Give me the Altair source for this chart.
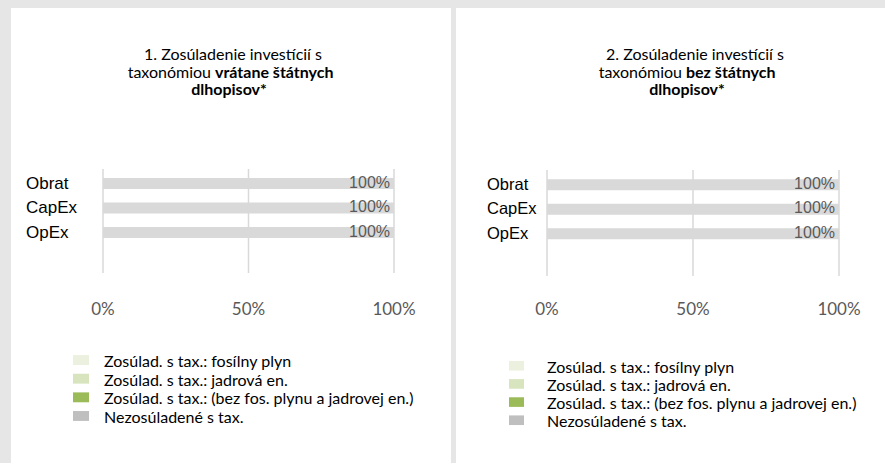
import altair as alt
import pandas as pd

# ---------------- data ----------------
categories = ["Obrat", "CapEx", "OpEx"]
series = [
    "Zosúlad. s tax.: fosílny plyn",
    "Zosúlad. s tax.: jadrová en.",
    "Zosúlad. s tax.: (bez fos. plynu a jadrovej en.)",
    "Nezosúladené s tax.",
]
# panel 1: including sovereign bonds (share of total)
p1_fossil = [0.0, 0.0, 0.0]
p1_nuclear = [0.0, 0.0, 0.0]
p1_aligned = [0.0, 0.0, 0.0]
p1_not_aligned = [1.0, 1.0, 1.0]
# panel 2: excluding sovereign bonds
p2_fossil = [0.0, 0.0, 0.0]
p2_nuclear = [0.0, 0.0, 0.0]
p2_aligned = [0.0, 0.0, 0.0]
p2_not_aligned = [1.0, 1.0, 1.0]

x_ticks = [0.0, 0.5, 1.0]
x_tick_labels = ["0%", "50%", "100%"]

p1_title = ["1. Zosúladenie investícií s", "taxonómiou", "vrátane štátnych", "dlhopisov*"]
p2_title = ["2. Zosúladenie investícií s", "taxonómiou", "bez štátnych", "dlhopisov*"]

# ---------------- styles ----------------
bar_colors = ["#ebf1de", "#d7e4bd", "#9bbb59", "#d9d9d9"]
legend_colors = ["#ebf1de", "#d7e4bd", "#9bbb59", "#bfbfbf"]
SANS = "Lato"
ARIAL = "Liberation Sans"
GREY_TXT = "#595959"


def panel(vals, title, cfg):
    rows = []
    for si, (s, arr) in enumerate(zip(series, vals)):
        for c, v in zip(categories, arr):
            rows.append({"cat": c, "series": s, "value": v, "order": si,
                         "col": bar_colors[si]})
    df = pd.DataFrame(rows)
    totals = df.groupby("cat", sort=False)["value"].sum().reset_index()
    ticks = pd.DataFrame({"tick": x_ticks, "lab": x_tick_labels})
    leg = pd.DataFrame({"label": series, "col": legend_colors})

    xs = alt.Scale(domain=[0, 1], range=cfg["xr"], nice=False, zero=False)
    ys = alt.Scale(domain=categories, range=cfg["yr"], paddingInner=0.55, paddingOuter=0.275)
    ls = alt.Scale(domain=series, range=cfg["lr"], paddingInner=0.47, paddingOuter=0.235)

    grid = alt.Chart(ticks).mark_rule(color="#d9d9d9", strokeWidth=1.5).encode(
        x=alt.X("tick:Q", scale=xs, axis=None),
        y=alt.value(cfg["gy"][0]), y2=alt.value(cfg["gy"][1]))

    bars = alt.Chart(df).mark_bar().encode(
        x=alt.X("value:Q", stack="zero", scale=xs, axis=None),
        y=alt.Y("cat:N", scale=ys, axis=None, sort=categories),
        color=alt.Color("col:N", scale=None, legend=None),
        order=alt.Order("order:Q"))

    vlab = alt.Chart(totals).mark_text(align="right", baseline="middle", dx=-4, dy=-1,
                                       font=ARIAL, fontSize=16, color=GREY_TXT).encode(
        x=alt.X("value:Q", scale=xs, axis=None),
        y=alt.Y("cat:N", scale=ys, axis=None, sort=categories),
        text=alt.Text("value:Q", format=".0%"))

    clab = alt.Chart(pd.DataFrame({"cat": categories})).mark_text(
        align="left", baseline="middle", font=ARIAL, fontSize=cfg["cfs"], color="#000000").encode(
        x=alt.value(cfg["cx"]),
        y=alt.Y("cat:N", scale=ys, axis=None, sort=categories),
        text="cat:N")

    tlab = alt.Chart(ticks).mark_text(baseline="middle", font=SANS, fontSize=17,
                                       color=GREY_TXT).encode(
        x=alt.X("tick:Q", scale=xs, axis=None),
        y=alt.value(cfg["ty"]),
        text="lab:N")

    lrect = alt.Chart(leg).mark_rect().encode(
        x=alt.value(cfg["lx"][0]), x2=alt.value(cfg["lx"][1]),
        y=alt.Y("label:N", scale=ls, axis=None, sort=series),
        color=alt.Color("col:N", scale=None, legend=None))

    ltext = alt.Chart(leg).mark_text(align="left", baseline="middle", dy=2, font=SANS,
                                     fontSize=cfg["lfs"], color="#000000").encode(
        x=alt.value(cfg["ltx"]),
        y=alt.Y("label:N", scale=ls, axis=None, sort=series),
        text="label:N")

    def tx(text, x, y, align, weight):
        return alt.Chart(pd.DataFrame({"t": [text]})).mark_text(
            align=align, baseline="middle", font=SANS, fontSize=16,
            fontWeight=weight, color="#000000").encode(
            x=alt.value(x), y=alt.value(y), text="t:N")

    t1 = tx(title[0], cfg["t1x"], cfg["ty0"], "center", "normal")
    t2a = tx(title[1], cfg["split"] - 4, cfg["ty0"] + 17.5, "right", "normal")
    t2b = tx(title[2], cfg["split"], cfg["ty0"] + 17.5, "left", "bold")
    t3 = tx(title[3], cfg["t3x"], cfg["ty0"] + 35, "center", "bold")

    return alt.layer(grid, bars, vlab, clab, tlab, lrect, ltext, t1, t2a, t2b, t3).resolve_scale(
        y="independent").properties(width=cfg["w"], height=455)


cfg1 = dict(w=440, xr=[92, 383], yr=[163.25, 236.75], gy=[161, 265], cx=15, cfs=17,
            ty=302, lr=[342.7, 417.3], lx=[62, 78], ltx=93, lfs=16,
            t1x=222, t3x=218, split=204, ty0=47)
cfg2 = dict(w=429, xr=[91, 383], yr=[164.5, 238], gy=[162, 268], cx=31, cfs=16.5,
            ty=302, lr=[348.7, 421.3], lx=[53, 68], ltx=91, lfs=16,
            t1x=239, t3x=231, split=230, ty0=47)

left = panel([p1_fossil, p1_nuclear, p1_aligned, p1_not_aligned], p1_title, cfg1)
right = panel([p2_fossil, p2_nuclear, p2_aligned, p2_not_aligned], p2_title, cfg2)

chart = alt.hconcat(left, right, spacing=5).properties(
    background="#e6e6e6",
    padding={"left": 11, "top": 8, "right": 0, "bottom": 0},
).configure_view(fill="white", strokeWidth=0)

chart.save("out.html", embed_options={"renderer": "svg", "actions": False})
